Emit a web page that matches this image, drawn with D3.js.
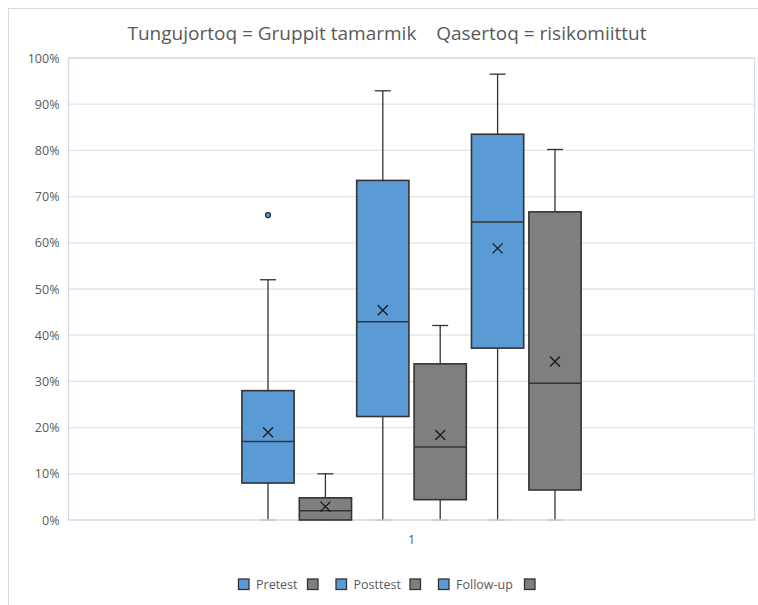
<!DOCTYPE html>
<html>
<head>
<meta charset="utf-8">
<script src="https://cdn.jsdelivr.net/npm/d3@7"></script>
<style>
  body { margin: 0; background: #fff; }
  text { font-family: "Open Sans", "Noto Sans", sans-serif; fill: #595959; }
</style>
</head>
<body>
<div id="chart"></div>
<script>
// data, in %
var categories = ["1"]
var series = ["Pretest", "", "Posttest", "", "Follow-up", ""]
var colors = ["#5b9bd5", "#7f7f7f", "#5b9bd5", "#7f7f7f", "#5b9bd5", "#7f7f7f"]
var whiskerLow = [0, 0, 0, 0, 0, 0]
var q1 = [8, 0, 22.4, 4.4, 37.2, 6.5]
var median = [17, 2, 42.9, 15.8, 64.5, 29.6]
var q3 = [28, 4.8, 73.5, 33.8, 83.5, 66.7]
var whiskerHigh = [52, 10, 92.9, 42.1, 96.5, 80.2]
var means = [19, 2.9, 45.4, 18.4, 58.8, 34.3]
var outliers = [[66], [], [], [], [], []]
var yTicks = [0, 10, 20, 30, 40, 50, 60, 70, 80, 90, 100]
var title = "Tungujortoq = Gruppit tamarmik    Qasertoq = risikomiittut"

var w = 758, h = 605
var plotLeft = 68.5, plotRight = 754.5, plotTop = 58, plotBottom = 520

var svg = d3.select('#chart').append('svg')
    .attr('width', w)
    .attr('height', h)

// outer chart frame
svg.append('rect')
    .attr('x', 8.5).attr('y', 8.5)
    .attr('width', 800).attr('height', 700)
    .attr('fill', 'none')
    .attr('stroke', '#d9d9d9')

svg.append('text')
    .attr('x', 387).attr('y', 40)
    .attr('text-anchor', 'middle')
    .attr('font-size', 19)
    .style('white-space', 'pre')
    .text(title)

var y = d3.scaleLinear().domain([0, 100]).range([plotBottom, plotTop])
var x0 = d3.scaleBand().domain(categories).range([plotLeft, plotRight]).paddingInner(0).paddingOuter(0.496)
var x1 = d3.scaleBand().domain(d3.range(series.length)).range([0, x0.bandwidth()])
    .paddingInner(0.09).paddingOuter(0.045)

// gridlines
svg.append('g')
    .selectAll('line')
    .data(yTicks)
    .enter()
    .append('line')
    .attr('x1', plotLeft).attr('x2', plotRight)
    .attr('y1', function(d){ return y(d) })
    .attr('y2', function(d){ return y(d) })
    .attr('stroke', '#e3e3e3')
    .attr('stroke-width', 1.3)

// plot frame
svg.append('rect')
    .attr('x', plotLeft).attr('y', plotTop)
    .attr('width', plotRight - plotLeft).attr('height', plotBottom - plotTop)
    .attr('fill', 'none')
    .attr('stroke', '#cfdcec')
    .attr('stroke-width', 1.3)

// y axis labels
var yAxis = d3.axisLeft(y).tickValues(yTicks).tickSize(0).tickPadding(9)
    .tickFormat(function(d){ return d + '%' })
var ya = svg.append('g').attr('transform', 'translate(' + plotLeft + ',0)').call(yAxis)
ya.select('.domain').remove()
ya.selectAll('text').attr('font-size', 12.5).attr('fill', '#595959')
    .style('font-family', '"Open Sans", sans-serif')

// x axis label
var xAxis = d3.axisBottom(x0).tickSize(0).tickPadding(15)
var xa = svg.append('g').attr('transform', 'translate(0,' + plotBottom + ')').call(xAxis)
xa.select('.domain').remove()
xa.selectAll('text').attr('font-size', 12.5).attr('fill', '#595959')
    .style('font-family', '"Open Sans", sans-serif')

var stroke = '#333333'
var bw = x1.bandwidth()
var cap = 16

var boxes = svg.append('g')
    .selectAll('g')
    .data(d3.range(series.length))
    .enter()
    .append('g')
    .attr('transform', function(i){ return 'translate(' + (x0(categories[0]) + x1(i)) + ',0)' })

// whiskers
boxes.append('line')
    .attr('x1', bw / 2).attr('x2', bw / 2)
    .attr('y1', function(i){ return y(whiskerHigh[i]) })
    .attr('y2', function(i){ return y(q3[i]) })
    .attr('stroke', stroke).attr('stroke-width', 1.3)
boxes.append('line')
    .attr('x1', bw / 2).attr('x2', bw / 2)
    .attr('y1', function(i){ return y(q1[i]) })
    .attr('y2', function(i){ return y(whiskerLow[i]) })
    .attr('stroke', stroke).attr('stroke-width', 1.3)
boxes.append('line')
    .attr('x1', bw / 2 - cap / 2).attr('x2', bw / 2 + cap / 2)
    .attr('y1', function(i){ return y(whiskerHigh[i]) })
    .attr('y2', function(i){ return y(whiskerHigh[i]) })
    .attr('stroke', stroke).attr('stroke-width', 1.3)
boxes.append('line')
    .attr('x1', bw / 2 - cap / 2).attr('x2', bw / 2 + cap / 2)
    .attr('y1', function(i){ return y(whiskerLow[i]) })
    .attr('y2', function(i){ return y(whiskerLow[i]) })
    .attr('stroke', '#c8c8c8').attr('stroke-width', 1.5)

// box
boxes.append('rect')
    .attr('x', 0).attr('width', bw)
    .attr('y', function(i){ return y(q3[i]) })
    .attr('height', function(i){ return y(q1[i]) - y(q3[i]) })
    .attr('fill', function(i){ return colors[i] })
    .attr('stroke', stroke).attr('stroke-width', 1.6)

// median
boxes.append('line')
    .attr('x1', 0).attr('x2', bw)
    .attr('y1', function(i){ return y(median[i]) })
    .attr('y2', function(i){ return y(median[i]) })
    .attr('stroke', stroke).attr('stroke-width', 1.6)

// mean marker
boxes.append('path')
    .attr('d', function(i){
      var cx = bw / 2, cy = y(means[i]), s = 5
      return 'M' + (cx - s) + ',' + (cy - s) + 'L' + (cx + s) + ',' + (cy + s) +
             'M' + (cx - s) + ',' + (cy + s) + 'L' + (cx + s) + ',' + (cy - s)
    })
    .attr('stroke', '#1a1a1a').attr('stroke-width', 1.3).attr('fill', 'none')

// outliers
boxes.selectAll('circle')
    .data(function(i){ return outliers[i].map(function(v){ return {i: i, v: v} }) })
    .enter()
    .append('circle')
    .attr('cx', bw / 2)
    .attr('cy', function(d){ return y(d.v) })
    .attr('r', 2.5)
    .attr('fill', function(d){ return colors[d.i] })
    .attr('stroke', '#262626').attr('stroke-width', 1.2)

// legend
var legendX = [238.5, 307.5, 336, 410, 438.5, 524.5]
var legend = svg.append('g')
    .selectAll('g')
    .data(d3.range(series.length))
    .enter()
    .append('g')
    .attr('transform', function(i){ return 'translate(' + legendX[i] + ',579)' })
legend.append('rect')
    .attr('width', 10.5).attr('height', 10.5)
    .attr('fill', function(i){ return colors[i] })
    .attr('stroke', '#333').attr('stroke-width', 1.3)
legend.append('text')
    .attr('x', 17.5).attr('y', 10)
    .attr('font-size', 12.5)
    .text(function(i){ return series[i] })
</script>
</body>
</html>
